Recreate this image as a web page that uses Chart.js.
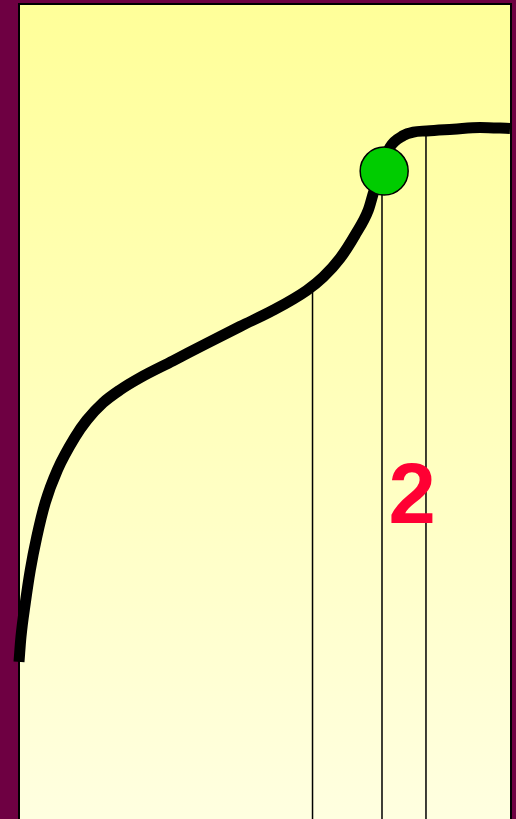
<!DOCTYPE html>
<html>
<head>
<meta charset="utf-8">
<script src="https://cdn.jsdelivr.net/npm/chart.js@4/dist/chart.umd.min.js"></script>
<style>
html,body{margin:0;padding:0;background:#6e0042;}
#wrap{width:516px;height:819px;position:relative;}
</style>
</head>
<body>
<div id="wrap"><canvas id="c"></canvas></div>
<script>
// Titration curve: volume of titrant added (mL) vs pH
const volume = [0, 0.20, 0.64, 1.15, 1.80, 2.66, 3.91, 5.69, 6.88, 8.54, 10.26, 12.30, 15.65, 19.08, 22.46, 25.84, 29.24, 30.92, 32.62, 34.15, 35.50, 36.01, 36.69, 37.70, 39.06, 40.07, 41.43, 44.14, 46.85, 49.90];
const pH     = [2.70, 3.13, 3.71, 4.28, 4.84, 5.43, 6.00, 6.56, 6.85, 7.15, 7.37, 7.58, 7.87, 8.17, 8.46, 8.74, 9.08, 9.31, 9.63, 10.03, 10.46, 10.75, 11.11, 11.54, 11.74, 11.80, 11.82, 11.85, 11.88, 11.86];

// Vertical reference lines (volume, pH where they meet the curve)
const markerVolumes = [29.83, 36.89, 41.36];
const markerTops    = [9.12, 11.13, 11.82];

// Equivalence point
const eqVolume = [37.11];
const eqPH     = [11.13];

// Label
const labelText = ["2"];
const labelVolume = [39.96];
const labelPH = [5.09];

const curveData = volume.map((v, i) => ({x: v, y: pH[i]}));
const markerSets = markerVolumes.map((v, i) => ({
  type: 'scatter',
  data: [{x: v, y: markerTops[i]}, {x: v, y: 0}],
  showLine: true,
  borderColor: '#000',
  borderWidth: 1.5,
  pointRadius: 0,
  order: 3
}));

const bgPlugin = {
  id: 'panel',
  beforeDraw(chart) {
    const ctx = chart.ctx, a = chart.chartArea;
    ctx.save();
    ctx.fillStyle = '#6e0042';
    ctx.fillRect(0, 0, chart.width, chart.height);
    const g = ctx.createLinearGradient(0, a.top, 0, a.bottom);
    g.addColorStop(0, '#ffff99');
    g.addColorStop(1, '#ffffe0');
    ctx.fillStyle = g;
    ctx.fillRect(a.left, a.top, a.right - a.left, a.bottom - a.top + 10);
    ctx.strokeStyle = '#000';
    ctx.lineWidth = 2;
    ctx.strokeRect(a.left, a.top, a.right - a.left, a.bottom - a.top + 20);
    ctx.restore();
  },
  afterDraw(chart) {
    const ctx = chart.ctx;
    const xs = chart.scales.x, ys = chart.scales.y;
    ctx.save();
    ctx.fillStyle = '#ff0033';
    ctx.font = 'bold 85px "Liberation Sans", Arial, sans-serif';
    ctx.textAlign = 'center';
    ctx.textBaseline = 'alphabetic';
    labelText.forEach((t, i) => {
      ctx.fillText(t, xs.getPixelForValue(labelVolume[i]), ys.getPixelForValue(labelPH[i]));
    });
    ctx.restore();
  }
};

new Chart(document.getElementById('c'), {
  type: 'scatter',
  data: {
    datasets: [
      {
        data: eqVolume.map((v, i) => ({x: v, y: eqPH[i]})),
        pointRadius: 24,
        pointBackgroundColor: '#00cc00',
        pointBorderColor: '#000',
        pointBorderWidth: 1.5,
        order: 1,
        clip: false
      },
      {
        data: curveData,
        showLine: true,
        borderColor: '#000',
        borderWidth: 11,
        borderCapStyle: 'butt',
        borderJoinStyle: 'round',
        cubicInterpolationMode: 'monotone',
        pointRadius: 0,
        order: 2,
        clip: {left: 10, top: 0, right: 0, bottom: 0}
      },
      ...markerSets
    ]
  },
  options: {
    responsive: true,
    maintainAspectRatio: false,
    animation: false,
    layout: {autoPadding: false, padding: {left: 19, top: 4, right: 5, bottom: 0}},
    plugins: {legend: {display: false}, tooltip: {enabled: false}},
    scales: {
      x: {type: 'linear', min: 0, max: 50, display: false},
      y: {type: 'linear', min: 0, max: 14, display: false}
    }
  },
  plugins: [bgPlugin]
});
</script>
</body>
</html>
